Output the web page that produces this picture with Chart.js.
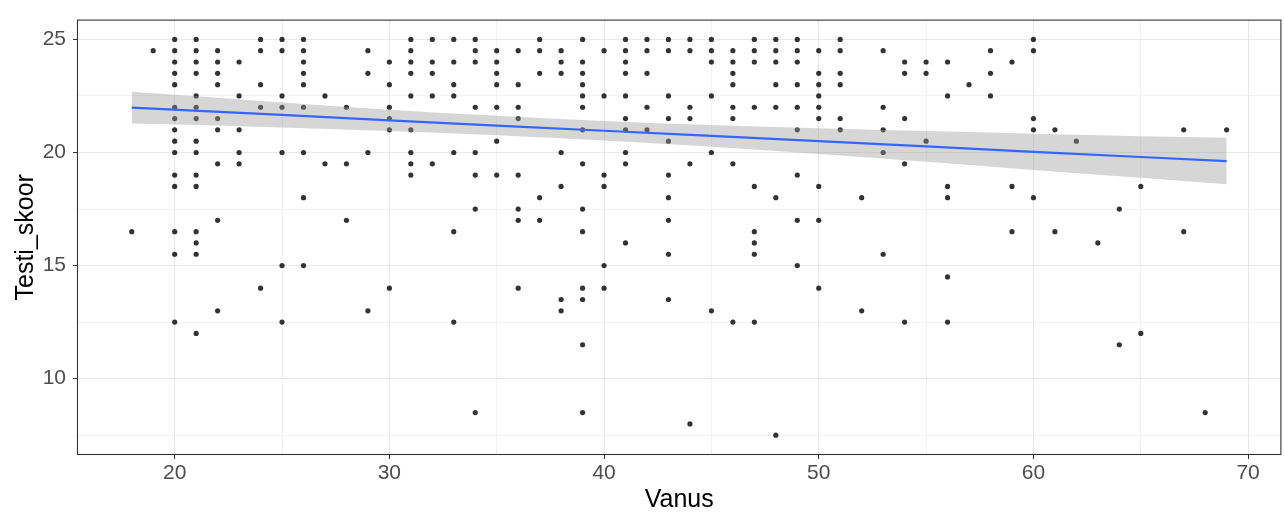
<!DOCTYPE html>
<html>
<head>
<meta charset="utf-8">
<script src="https://cdn.jsdelivr.net/npm/chart.js@4/dist/chart.umd.min.js"></script>
<style>
html,body{margin:0;padding:0;background:#fff;overflow:hidden;}
#wrap{width:1284px;height:515px;position:relative;}
</style>
</head>
<body>
<div id="wrap"><canvas id="c" width="1284" height="515"></canvas></div>
<script>
// ---- data ----
const ages = [18,19,20,21,22,23,24,25,26,27,28,29,30,31,32,33,34,35,36,37,38,39,40,41,42,43,44,45,46,47,48,49,50,51,52,53,54,55,56,57,58,59,60,61,62,63,64,65,67,68,69];
const scoresByAge = [
  [16.5],
  [24.5],
  [25,24.5,24,23.5,23,22,21.5,21,20.5,20,19,18.5,16.5,15.5,12.5],
  [25,24.5,24,23.5,22.5,22,21.5,20.5,20,19,18.5,16.5,16,15.5,12],
  [24.5,24,23.5,23,21.5,21,19.5,17,13],
  [24,22.5,21,20,19.5],
  [25,24.5,23,22,14],
  [25,24.5,22.5,22,20,15,12.5],
  [25,24.5,24,23.5,23,22,20,18,15],
  [22.5,19.5],
  [22,19.5,17],
  [24.5,23.5,20,13],
  [24,23,22,21.5,21,14],
  [25,24.5,24,23.5,22.5,21,20,19.5,19],
  [25,24,23.5,22.5,19.5],
  [25,24,23,22.5,20,16.5,12.5],
  [25,24.5,24,22,20,19,17.5,8.5],
  [24.5,24,23.5,23,22,20.5,19],
  [24.5,23,22,21.5,19,17.5,17,14],
  [25,24.5,23.5,18,17],
  [24.5,24,23.5,20,18.5,13.5,13],
  [25,24,23.5,23,22.5,22,21,19.5,17.5,16.5,14,13.5,11.5,8.5],
  [24.5,22.5,19,18.5,15,14],
  [25,24.5,24,23.5,22.5,21.5,21,20,19.5,16],
  [25,24.5,23.5,22,21],
  [25,24.5,22.5,21.5,20.5,19,18,17,15.5,13.5],
  [25,24.5,22,21.5,19.5,8],
  [25,24.5,24,22.5,20,13],
  [24.5,24,23.5,23,22,21.5,19.5,12.5],
  [25,24.5,24,22,18.5,16.5,16,15.5,12.5],
  [25,24.5,24,23,22,18,7.5],
  [25,24.5,24,23,22,21,19,17,15],
  [24.5,23.5,23,22.5,22,21.5,18.5,17,14],
  [25,24.5,23.5,23,21.5,21],
  [18,13],
  [24.5,22,21,20,15.5],
  [24,23.5,21.5,19.5,12.5],
  [24,23.5,20.5],
  [24,22.5,18.5,18,14.5,12.5],
  [23],
  [24.5,23.5,22.5],
  [24,18.5,16.5],
  [25,24.5,21.5,21,18],
  [21,16.5],
  [20.5],
  [16],
  [17.5,11.5],
  [18.5,12],
  [21,16.5],
  [8.5],
  [21]
];
// fitted line and confidence band
const fitAges  = [18,25,30,35,40,45,50,55,60,65,69];
const fitValue = [21.98,21.66,21.42,21.19,20.96,20.73,20.50,20.27,20.03,19.80,19.62];
const fitUpper = [22.68,22.21,21.89,21.62,21.39,21.21,21.07,20.95,20.83,20.72,20.65];
const fitLower = [21.28,21.11,20.95,20.76,20.53,20.25,19.93,19.59,19.23,18.88,18.59];
// axis ticks
const xMajor = [20,30,40,50,60,70];
const xMinor = [25,35,45,55,65];
const yMajor = [10,15,20,25];
const yMinor = [7.5,12.5,17.5,22.5];

// ---- build library data ----
const pts = [];
ages.forEach((a,i)=>scoresByAge[i].forEach(s=>pts.push({x:a,y:s})));
const toXY = arr => fitAges.map((a,i)=>({x:a,y:arr[i]}));

const FONT = "'Liberation Sans', Arial, Helvetica, sans-serif";

function tickSetup(major, minor){
  return function(scale){
    scale.ticks = major.concat(minor).sort((a,b)=>a-b).map(v=>({value:v}));
  };
}
function isMajor(list, v){ return list.some(m=>Math.abs(m-v)<1e-9); }

const borderPlugin = {
  id:'panelBorder',
  afterDraw(chart){
    const {ctx, chartArea:a} = chart;
    ctx.save();
    ctx.strokeStyle = '#333333';
    ctx.lineWidth = 1.1;
    ctx.strokeRect(a.left+0.5, a.top+0.5, a.right-a.left-1, a.bottom-a.top-1);
    ctx.restore();
  }
};

new Chart(document.getElementById('c'), {
  type:'scatter',
  data:{
    datasets:[
      {
        label:'points',
        data:pts,
        pointRadius:2.6,
        pointHoverRadius:2.6,
        pointBackgroundColor:'rgba(0,0,0,0.8)',
        pointBorderWidth:0,
        borderWidth:0,
        order:3
      },
      {
        label:'upper',
        data:toXY(fitUpper),
        showLine:true,
        pointRadius:0,
        borderWidth:0,
        borderColor:'rgba(0,0,0,0)',
        backgroundColor:'rgba(153,153,153,0.4)',
        fill:'+1',
        cubicInterpolationMode:'monotone',
        order:2
      },
      {
        label:'lower',
        data:toXY(fitLower),
        showLine:true,
        pointRadius:0,
        borderWidth:0,
        borderColor:'rgba(0,0,0,0)',
        fill:false,
        cubicInterpolationMode:'monotone',
        order:2
      },
      {
        label:'fit',
        data:toXY(fitValue),
        showLine:true,
        pointRadius:0,
        borderWidth:2.2,
        borderColor:'#3366FF',
        fill:false,
        order:1
      }
    ]
  },
  options:{
    responsive:false,
    animation:false,
    events:[],
    layout:{padding:{top:7,left:0,right:0,bottom:0}},
    plugins:{legend:{display:false},tooltip:{enabled:false}},
    scales:{
      x:{
        type:'linear',
        min:15.45,
        max:71.55,
        afterBuildTicks:tickSetup(xMajor,xMinor),
        afterFit(scale){ scale.height = 60; },
        grid:{
          color:ctx=>isMajor(xMajor,ctx.tick.value)?'#E8E8E8':'#F2F2F2',
          lineWidth:1,
          drawTicks:true,
          tickLength:4,
          tickColor:ctx=>isMajor(xMajor,ctx.tick.value)?'#333333':'rgba(0,0,0,0)'
        },
        border:{display:false},
        ticks:{
          autoSkip:false,
          maxRotation:0,
          padding:2,
          color:'#4D4D4D',
          font:{family:FONT,size:21},
          callback:v=>isMajor(xMajor,v)?String(v):''
        },
        title:{
          display:true,
          text:'Vanus',
          color:'#000000',
          font:{family:FONT,size:25},
          padding:{top:0,bottom:0}
        }
      },
      y:{
        type:'linear',
        min:6.625,
        max:25.875,
        afterBuildTicks:tickSetup(yMajor,yMinor),
        afterFit(scale){ scale.width = 77; },
        grid:{
          color:ctx=>isMajor(yMajor,ctx.tick.value)?'#E8E8E8':'#F2F2F2',
          lineWidth:1,
          drawTicks:true,
          tickLength:4,
          tickColor:ctx=>isMajor(yMajor,ctx.tick.value)?'#333333':'rgba(0,0,0,0)'
        },
        border:{display:false},
        ticks:{
          autoSkip:false,
          padding:7,
          color:'#4D4D4D',
          font:{family:FONT,size:21},
          callback:v=>isMajor(yMajor,v)?String(v):''
        },
        title:{
          display:true,
          text:'Testi_skoor',
          color:'#000000',
          font:{family:FONT,size:25},
          padding:{top:11,bottom:0}
        }
      }
    }
  },
  plugins:[borderPlugin]
});
</script>
</body>
</html>
